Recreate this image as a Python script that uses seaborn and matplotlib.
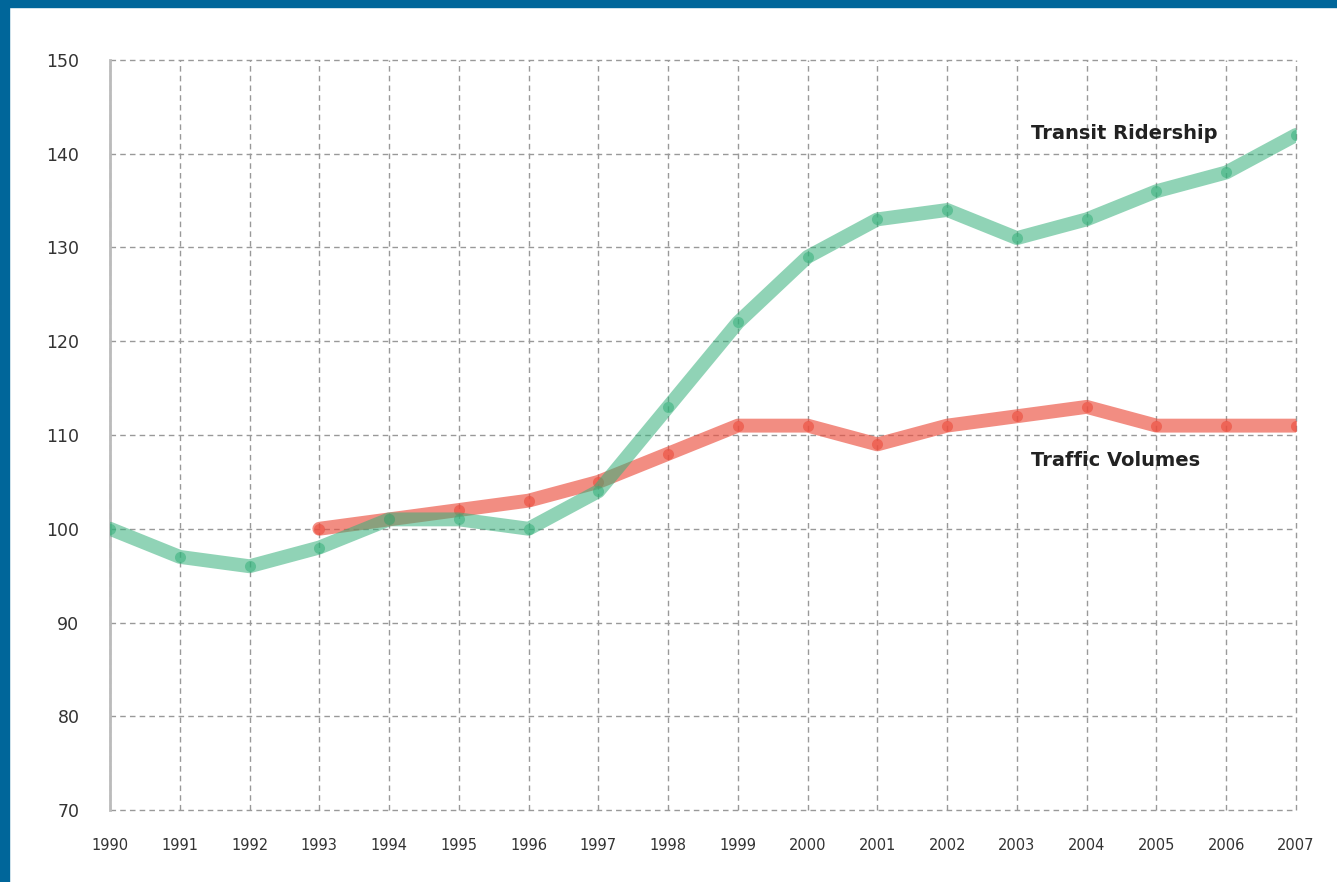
import matplotlib
matplotlib.use("Agg")
import matplotlib.pyplot as plt
import seaborn as sns
import pandas as pd
from matplotlib.patches import Rectangle

years = list(range(1990, 2008))
transit = [100, 97, 96, 98, 101, 101, 100, 104, 113, 122, 129, 133, 134, 131, 133, 136, 138, 142]
traffic_years = list(range(1993, 2008))
traffic = [100, 101, 102, 103, 105, 108, 111, 111, 109, 111, 112, 113, 111, 111, 111]
y_ticks = [70, 80, 90, 100, 110, 120, 130, 140, 150]

transit_df = pd.DataFrame({"year": years, "index": transit})
traffic_df = pd.DataFrame({"year": traffic_years, "index": traffic})

sns.set_style("white")
plt.rcParams["font.family"] = ["DejaVu Sans"]

fig = plt.figure(figsize=(13.37, 8.82), dpi=100)
ax = fig.add_axes([0.0823, 0.0816, 0.9693 - 0.0823, 0.932 - 0.0816])

# blue frame on top and left edges
fig.patches.append(Rectangle((0, 1 - 7 / 882), 1, 7 / 882, transform=fig.transFigure,
                             color="#00669a", zorder=10))
fig.patches.append(Rectangle((0, 0), 9 / 1337, 1, transform=fig.transFigure,
                             color="#00669a", zorder=10))

green = "#35b07a"
red = "#ec5040"

sns.lineplot(data=transit_df, x="year", y="index", ax=ax, color=green, linewidth=10,
             alpha=0.55, marker="o", markersize=8, markeredgewidth=0,
             solid_joinstyle="round", solid_capstyle="round", zorder=3)
sns.lineplot(data=traffic_df, x="year", y="index", ax=ax, color=red, linewidth=10,
             alpha=0.65, marker="o", markersize=8, markeredgewidth=0,
             solid_joinstyle="round", solid_capstyle="round", zorder=2)

ax.set_xlim(1990, 2007)
ax.set_ylim(70, 150)
ax.set_xticks(years)
ax.set_yticks(y_ticks)
ax.set_xticklabels([str(y) for y in years], fontsize=10.5, color="#333333")
ax.set_yticklabels([str(v) for v in y_ticks], fontsize=12.5, color="#333333")
ax.tick_params(axis="x", pad=20, length=0)
ax.tick_params(axis="y", pad=22, length=0)
ax.set_xlabel("")
ax.set_ylabel("")

ax.grid(True, color="#999999", linestyle=(0, (4, 3)), linewidth=1.0)
for line in ax.get_xgridlines() + ax.get_ygridlines():
    line.set_clip_on(False)
for side in ["top", "right", "bottom"]:
    ax.spines[side].set_visible(False)
ax.spines["left"].set_color("#bbbbbb")
ax.spines["left"].set_linewidth(2)

ax.text(2003.2, 142.2, "Transit Ridership", fontsize=14, fontweight="bold",
        color="#222222", va="center", ha="left")
ax.text(2003.2, 107.3, "Traffic Volumes", fontsize=14, fontweight="bold",
        color="#222222", va="center", ha="left")

fig.savefig("out.png", dpi=100, facecolor="white")
